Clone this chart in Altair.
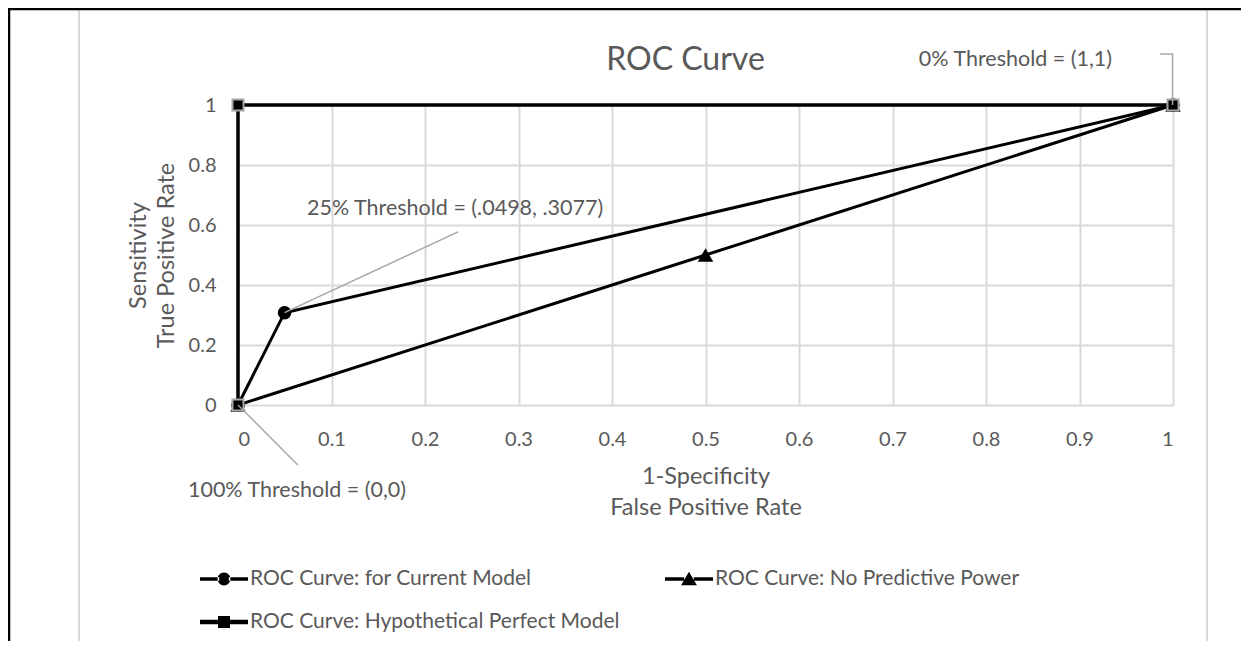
import altair as alt
import pandas as pd

# ---------------- data ----------------
series_names = [
    "ROC Curve: for Current Model",
    "ROC Curve: No Predictive Power",
    "ROC Curve: Hypothetical Perfect Model",
]
current_fpr = [0, 0.0498, 1]
current_tpr = [0, 0.3077, 1]
nopower_fpr = [0, 0.5, 1]
nopower_tpr = [0, 0.5, 1]
perfect_fpr = [0, 0, 1]
perfect_tpr = [0, 1, 1]

x_ticks = [0, 0.1, 0.2, 0.3, 0.4, 0.5, 0.6, 0.7, 0.8, 0.9, 1]
y_ticks = [0, 0.2, 0.4, 0.6, 0.8, 1]

# annotation labels (data-space anchor, alignment)
annot_texts = ["25% Threshold = (.0498, .3077)", "100% Threshold = (0,0)", "0% Threshold = (1,1)"]
annot_x = [0.0738, 0.0631, 0.9348]
annot_y = [0.632, -0.3067, 1.13]
annot_align = ["left", "center", "right"]

leader_group = ["t25", "t25", "t100", "t100", "t0", "t0", "t0"]
leader_x = [0.0498, 0.2353, 0, 0.064, 0.986, 0.9995, 0.9995]
leader_y = [0.3077, 0.577, 0, -0.2, 1.17, 1.17, 1.0]
leader_idx = [0, 1, 0, 1, 0, 1, 2]

# legend symbols (line + marker) as filled custom paths
legend_paths = [
    "M-1,-0.073H-0.2V0.073H-1Z M0.2,-0.073H1V0.073H0.2Z "
    "M-0.27,0A0.27,0.27,0,1,0,0.27,0A0.27,0.27,0,1,0,-0.27,0Z",
    "M-1,-0.073H-0.2V0.073H-1Z M0.2,-0.073H1V0.073H0.2Z M0,-0.3L0.33,0.26L-0.33,0.26Z",
    "M-1,-0.09H-0.2V0.09H-1Z M0.2,-0.09H1V0.09H0.2Z M-0.25,-0.25H0.25V0.25H-0.25Z",
]

FONT = "Lato"
GREY_TXT = "#595959"

df = pd.DataFrame({
    "series": [series_names[0]] * 3 + [series_names[1]] * 3 + [series_names[2]] * 3,
    "fpr": current_fpr + nopower_fpr + perfect_fpr,
    "tpr": current_tpr + nopower_tpr + perfect_tpr,
    "idx": [0, 1, 2] * 3,
})
ann = pd.DataFrame({"text": annot_texts, "x": annot_x, "y": annot_y, "align": annot_align})
lead = pd.DataFrame({"g": leader_group, "x": leader_x, "y": leader_y, "i": leader_idx})

xscale = alt.Scale(domain=[0, 1], nice=False, zero=False)
yscale = alt.Scale(domain=[0, 1], nice=False, zero=False)

x_enc = alt.X(
    "fpr:Q", scale=xscale,
    axis=alt.Axis(values=x_ticks, format="~g", title=["1-Specificity", "False Positive Rate"],
                  labelPadding=24, titleY=78, titleBaseline="alphabetic", titleLineHeight=31),
)
y_enc = alt.Y(
    "tpr:Q", scale=yscale,
    axis=alt.Axis(values=y_ticks, format="~g", title=["Sensitivity", "True Positive Rate"],
                  labelPadding=22, titleX=-93, titleY=150, titleLineHeight=28,
                  titleBaseline="alphabetic"),
)

# ---------------- decorative frame ----------------
frame_df = pd.DataFrame({"k": [0]})
frame = alt.layer(
    alt.Chart(frame_df).mark_rule(color="#d9d9d9", strokeWidth=2).encode(
        x=alt.value(-159), y=alt.value(-95), y2=alt.value(540)),
    alt.Chart(frame_df).mark_rule(color="#d9d9d9", strokeWidth=2).encode(
        x=alt.value(969), y=alt.value(-95), y2=alt.value(540)),
    alt.Chart(frame_df).mark_rule(color="black", strokeWidth=2.5).encode(
        x=alt.value(-230), x2=alt.value(1010), y=alt.value(-96)),
    alt.Chart(frame_df).mark_rule(color="black", strokeWidth=2.5).encode(
        x=alt.value(-229), y=alt.value(-97), y2=alt.value(540)),
)

# ---------------- series ----------------
lines = alt.Chart(df).transform_filter(
    alt.datum.series != series_names[2]
).mark_line(color="black", strokeWidth=3).encode(
    x=x_enc, y=y_enc, detail="series:N", order="idx:Q")

perfect_line = alt.Chart(df).transform_filter(
    alt.datum.series == series_names[2]
).mark_line(color="black", strokeWidth=3.5).encode(
    x="fpr:Q", y="tpr:Q", order="idx:Q")

circles = alt.Chart(df).transform_filter(alt.datum.series == series_names[0]).mark_point(
    shape="circle", filled=True, size=185, color="black", opacity=1).encode(x="fpr:Q", y="tpr:Q")
triangles = alt.Chart(df).transform_filter(alt.datum.series == series_names[1]).mark_point(
    shape="triangle-up", filled=True, size=240, color="black", opacity=1).encode(x="fpr:Q", y="tpr:Q")
squares = alt.Chart(df).transform_filter(alt.datum.series == series_names[2]).mark_point(
    shape="square", filled=True, size=121, fill="black", stroke="#a6a6a6", strokeWidth=2,
    opacity=1).encode(x="fpr:Q", y="tpr:Q")

# ---------------- annotations ----------------
leaders = alt.Chart(lead).mark_line(color="#a6a6a6", strokeWidth=1.5).encode(
    x="x:Q", y="y:Q", detail="g:N", order="i:Q")


def ann_layer(al):
    return alt.Chart(ann).transform_filter(alt.datum.align == al).mark_text(
        font=FONT, fontSize=21.5, color=GREY_TXT, align=al, baseline="alphabetic"
    ).encode(x="x:Q", y="y:Q", text="text:N")


texts = alt.layer(ann_layer("left"), ann_layer("center"), ann_layer("right"))

# ---------------- legend (empty layer, explicit domain) ----------------
legend_layer = alt.Chart(df).transform_filter("false").mark_point(filled=True, color="black").encode(
    shape=alt.Shape(
        "series:N",
        scale=alt.Scale(domain=series_names, range=legend_paths),
        legend=alt.Legend(
            orient="none", legendX=-38, legendY=450, direction="horizontal", columns=2,
            columnPadding=45, rowPadding=9, title=None, padding=0,
            labelFont=FONT, labelFontSize=21, labelColor=GREY_TXT, labelOffset=2, labelLimit=600,
            symbolSize=2304, symbolStrokeWidth=0, symbolFillColor="black",
            symbolStrokeColor="black", symbolOpacity=1,
        ),
    )
)

chart = alt.layer(
    frame, lines, perfect_line, circles, triangles, squares, leaders, texts, legend_layer
).properties(
    width=935, height=300,
    padding={"left": 230, "top": 97, "right": 68, "bottom": 236},
    autosize=alt.AutoSizeParams(type="none"),
    title=alt.TitleParams("ROC Curve", font=FONT, fontSize=32, fontWeight="normal", color=GREY_TXT,
                          anchor="middle", dx=-20, dy=33, frame="group", offset=-62,
                          baseline="alphabetic"),
).configure_view(stroke=None).configure_axis(
    domain=False, ticks=False, grid=True, gridColor="#d9d9d9", gridWidth=2,
    labelFont=FONT, labelFontSize=20, labelColor=GREY_TXT,
    titleFont=FONT, titleFontSize=23.5, titleColor=GREY_TXT, titleFontWeight="normal",
)

chart.save("out.html", embed_options={"renderer": "svg", "actions": False})
